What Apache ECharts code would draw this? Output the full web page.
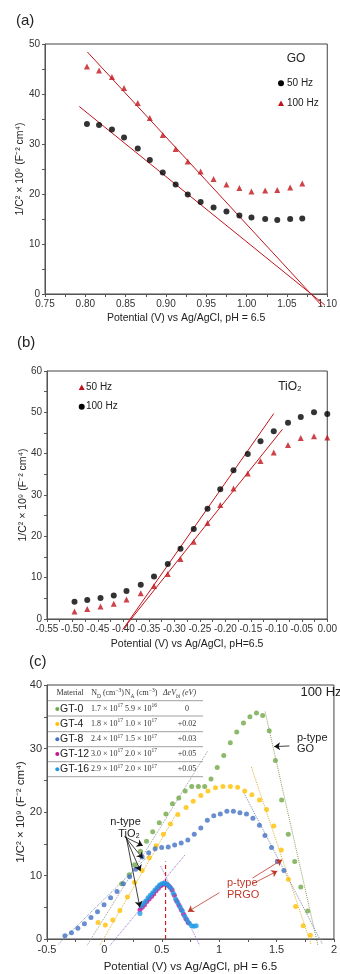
<!DOCTYPE html>
<html><head><meta charset="utf-8">
<script src="https://cdn.jsdelivr.net/npm/echarts@6/dist/echarts.min.js"></script>
<style>html,body{margin:0;padding:0;background:#fff;overflow:hidden}#c{width:340px;height:974px}</style>
</head><body><div id="c"></div>
<script>
// ---------- Panel (a) GO ----------
const aX = [0.802,0.817,0.833,0.848,0.865,0.880,0.896,0.912,0.927,0.943,0.959,0.975,0.991,1.006,1.023,1.038,1.054,1.069];
const a50 = [34.0,33.8,32.9,31.3,29.1,26.8,24.3,21.9,19.9,18.4,17.3,16.5,15.7,15.3,15.0,14.8,15.0,15.1];
const a100 = [45.5,44.7,43.4,41.2,38.2,35.2,31.8,29.0,26.5,24.5,23.0,21.9,21.2,20.5,20.7,20.8,21.3,22.1];
const aFit50X = [0.7925,1.097], aFit50Y = [37.5,-2.2];
const aFit100X = [0.8026,1.093], aFit100Y = [48.4,-2.3];

// ---------- Panel (b) TiO2 ----------
const bX = [-0.496,-0.471,-0.445,-0.419,-0.394,-0.366,-0.340,-0.313,-0.288,-0.262,-0.235,-0.210,-0.184,-0.156,-0.131,-0.105,-0.077,-0.052,-0.026,0.000];
const b100 = [4.2,4.6,5.1,5.7,6.8,8.3,10.3,13.3,17.0,21.8,26.7,31.4,36.0,39.9,43.0,45.4,47.5,48.9,50.0,49.6];
const b50 = [1.8,2.4,3.0,3.7,4.7,6.2,8.0,10.9,14.5,18.7,23.2,27.6,31.6,35.2,38.2,40.3,42.1,43.8,44.2,43.9];
const bFit100X = [-0.401,-0.105], bFit100Y = [-2.5,49.7];
const bFit50X = [-0.401,-0.088], bFit50Y = [-2.5,45.9];

// ---------- Panel (c) GT composites, 100 Hz ----------
const gt0X = [0.150,0.216,0.263,0.314,0.367,0.421,0.478,0.536,0.593,0.648,0.704,0.761,0.819,0.874,0.929,0.983,1.040,1.097,1.153,1.212,1.268,1.325,1.379,1.436,1.490,1.544,1.602,1.658,1.711,1.771];
const gt0Y = [8.7,10.1,11.7,13.8,15.4,16.9,18.3,19.7,21.3,22.2,23.3,24.0,24.0,24.0,25.2,27.0,28.9,30.9,32.6,34.0,35.0,35.6,35.2,32.8,28.1,21.9,16.5,12.2,8.2,4.4];
const gt4X = [-0.055,0.008,0.073,0.135,0.201,0.263,0.329,0.391,0.451,0.514,0.576,0.640,0.712,0.774,0.840,0.902,0.968,1.033,1.098,1.161,1.223,1.285,1.351,1.413,1.476,1.541,1.602,1.666,1.732,1.794];
const gt4Y = [2.6,2.2,3.0,4.5,6.6,8.9,10.8,12.8,14.7,16.5,18.1,19.6,20.7,21.7,22.6,23.3,23.8,24.0,24.0,23.9,23.3,22.7,21.9,20.4,17.8,14.0,9.4,5.1,2.1,0.6];
const gt8X = [-0.344,-0.287,-0.231,-0.174,-0.117,-0.060,-0.003,0.054,0.110,0.165,0.220,0.272,0.329,0.386,0.442,0.499,0.556,0.612,0.669,0.727,0.783,0.840,0.897,0.953,1.010,1.067,1.124,1.181,1.238,1.294,1.351,1.399,1.456,1.507,1.564];
const gt8Y = [0.5,1.0,1.7,2.4,3.4,4.3,5.4,6.5,7.5,8.7,9.8,11.0,12.9,13.6,14.2,14.4,14.5,14.8,15.1,15.6,16.5,17.5,18.7,19.4,19.7,20.1,20.1,19.9,19.7,19.0,17.9,16.3,14.4,12.2,10.8];
const gt12X = [0.31,0.33,0.35,0.37,0.39,0.41,0.43,0.45,0.47,0.49,0.51,0.53,0.55,0.57,0.59,0.61,0.63,0.65,0.67,0.69,0.71,0.73];
const gt12Y = [4.6,5.0,5.4,5.9,6.3,6.7,7.1,7.6,8.0,8.4,8.6,8.7,8.5,8.2,7.7,6.9,6.0,5.3,4.6,3.9,3.2,2.6];
const gt16X = [0.31,0.32,0.34,0.36,0.38,0.40,0.42,0.44,0.46,0.48,0.50,0.52,0.54,0.56,0.58,0.60,0.62,0.64,0.66,0.68,0.70,0.72,0.74,0.76,0.78,0.80];
const gt16Y = [4.0,5.2,5.6,6.0,6.5,6.9,7.3,7.7,8.1,8.5,8.7,8.8,8.7,8.4,8.0,7.2,6.3,5.7,5.0,4.4,3.6,3.0,2.5,2.1,2.0,2.1];
// fit lines (c)
const fitGoX = [1.40,1.86], fitGoY = [35.8,-1.0];
const fit4pX = [1.28,1.80], fit4pY = [27.1,-0.8];
const fit8pX = [1.21,1.90], fit8pY = [23.2,-0.8];
const fit0nX = [-0.15,0.90], fit0nY = [-1.0,29.6];
const fit4nX = [-0.04,0.62], fit4nY = [-1.0,19.5];
const fit8nX = [-0.40,0.40], fit8nY = [-0.8,13.4];
const fit12nX = [0.05,0.70], fit12nY = [-1.0,13.2];
const fit12pX = [0.49,0.83], fit12pY = [11.5,-1.0];
const peakX = [0.533,0.533], peakY = [0,12.2];

// table
const tMat = ['GT-0','GT-4','GT-8','GT-12','GT-16'];
const tNDm = ['1.7','1.8','2.4','3.0','2.9'], tNDe = ['17','17','17','17','17'];
const tNAm = ['5.9','1.0','1.5','2.0','2.0'], tNAe = ['16','17','17','17','17'];
const tDV = ['0','+0.02','+0.03','+0.05','+0.05'];

const C_RED = '#c0141c', C_G = '#70a845', C_Y = '#ffc000', C_B = '#4472c4', C_M = '#c01890', C_C = '#1f9be6';
const zip = (x, y) => x.map((v, i) => [v, y[i]]);

const FONT = 'Liberation Sans, Arial, sans-serif';
const axisBase = (extra) => Object.assign({
  type: 'value', splitLine: {show: false},
  axisLine: {show: true, onZero: false, lineStyle: {color: '#555', width: 1}},
  axisTick: {show: true, inside: false, length: 3, lineStyle: {color: '#555'}},
  minorTick: {show: true, splitNumber: 2, length: 3, lineStyle: {color: '#555'}},
  axisLabel: {color: '#333', fontFamily: FONT, fontSize: 10, margin: 5},
  nameTextStyle: {color: '#222', fontFamily: FONT, fontSize: 10.5},
  nameLocation: 'middle', nameMoveOverlap: false
}, extra);

const yName = '1/C² × 10⁹ (F⁻² cm⁴)';

function sc(name, x, y, xi, sym, color, size) {
  return {type: 'scatter', name, xAxisIndex: xi, yAxisIndex: xi, data: zip(x, y), symbol: sym, symbolSize: size,
    itemStyle: {color}, z: 5, silent: true};
}
function ln(x, y, xi, color, type, width, z) {
  return {type: 'line', xAxisIndex: xi, yAxisIndex: xi, data: zip(x, y), symbol: 'none', clip: false,
    lineStyle: {color, width: width || 1, type: type || 'solid'}, z: z || 3, silent: true};
}
function arrowS(segs, color) {
  return {type: 'lines', coordinateSystem: 'cartesian2d', xAxisIndex: 2, yAxisIndex: 2, symbol: ['none', 'arrow'], symbolSize: 6,
    lineStyle: {color, width: 0.8, opacity: 1}, data: segs.map(s => ({coords: s})), z: 8, silent: true};
}

const option = {
  animation: false,
  grid: [
    {left: 45, top: 44, width: 288, height: 250, show: true, borderColor: '#444', borderWidth: 1},
    {left: 47, top: 371, width: 286, height: 248, show: true, borderColor: '#444', borderWidth: 1},
    {left: 47, top: 685, width: 294, height: 257, show: true, borderColor: '#444', borderWidth: 1}
  ],
  xAxis: [
    axisBase({gridIndex: 0, min: 0.75, max: 1.1, interval: 0.05, name: 'Potential (V) vs Ag/AgCl, pH = 6.5', nameGap: 19,
      axisLabel: {color: '#333', fontFamily: FONT, fontSize: 10, margin: 5, formatter: v => v.toFixed(2)}}),
    axisBase({gridIndex: 1, min: -0.55, max: 0, interval: 0.05, name: 'Potential (V) vs Ag/AgCl, pH=6.5', nameGap: 20,
      axisLabel: {color: '#333', fontFamily: FONT, fontSize: 10, margin: 5, formatter: v => v.toFixed(2)}}),
    axisBase({gridIndex: 2, min: -0.5, max: 2, interval: 0.5, name: 'Potential (V) vs Ag/AgCl, pH = 6.5', nameGap: 22,
      nameTextStyle: {color: '#222', fontFamily: FONT, fontSize: 11.5},
      axisLabel: {color: '#333', fontFamily: FONT, fontSize: 11, margin: 5}})
  ],
  yAxis: [
    axisBase({gridIndex: 0, min: 0, max: 50, interval: 10, name: yName, nameGap: 19}),
    axisBase({gridIndex: 1, min: 0, max: 60, interval: 10, name: yName, nameGap: 18}),
    axisBase({gridIndex: 2, min: 0, max: 40, interval: 10, name: yName, nameGap: 20,
      nameTextStyle: {color: '#222', fontFamily: FONT, fontSize: 11.5},
      axisLabel: {color: '#333', fontFamily: FONT, fontSize: 11, margin: 5}})
  ],
  series: [
    ln(aFit50X, aFit50Y, 0, C_RED), ln(aFit100X, aFit100Y, 0, C_RED),
    sc('50 Hz', aX, a50, 0, 'circle', '#000', 6),
    sc('100 Hz', aX, a100, 0, 'triangle', C_RED, 6),
    ln(bFit100X, bFit100Y, 1, C_RED), ln(bFit50X, bFit50Y, 1, C_RED),
    sc('100 Hz', bX, b100, 1, 'circle', '#000', 6),
    sc('50 Hz', bX, b50, 1, 'triangle', C_RED, 6),
    ln(fitGoX, fitGoY, 2, '#8a9a5b', 'dotted'),
    ln(fit4pX, fit4pY, 2, '#e0b030', 'dotted'),
    ln(fit8pX, fit8pY, 2, '#7a8aa8', 'dotted'),
    ln(fit0nX, fit0nY, 2, '#999', 'dotted'),
    ln(fit4nX, fit4nY, 2, '#e0b030', 'dotted'),
    ln(fit8nX, fit8nY, 2, '#7a8aa8', 'dotted'),
    ln(fit12nX, fit12nY, 2, '#9b6fd0', 'dotted'),
    ln(fit12pX, fit12pY, 2, '#9b6fd0', 'dotted'),
    ln(peakX, peakY, 2, '#d0202a', [4, 3], 1.2),
    sc('GT-0', gt0X, gt0Y, 2, 'circle', C_G, 5),
    sc('GT-4', gt4X, gt4Y, 2, 'circle', C_Y, 5),
    sc('GT-8', gt8X, gt8Y, 2, 'circle', C_B, 5),
    sc('GT-12', gt12X, gt12Y, 2, 'circle', C_M, 5),
    sc('GT-16', gt16X, gt16Y, 2, 'circle', C_C, 5),
    arrowS([[[1.612, 30.4], [1.479, 30.3]]], '#111'),
    arrowS([[[0.175, 16.1], [0.335, 14.7]], [[0.18, 16.1], [0.335, 12.7]], [[0.185, 16.1], [0.314, 10.7]], [[0.19, 16.1], [0.309, 5.0]]], '#111'),
    arrowS([[[1.291, 9.6], [1.549, 12.5]], [[1.291, 8.7], [1.507, 10.7]], [[1.002, 7.3], [0.727, 4.3]]], '#c0392b')
  ],
  graphic: []
};

const G = option.graphic;
const T = (x, y, text, o) => G.push(Object.assign({type: 'text', x, y, silent: true, z: 20,
  style: Object.assign({text, fill: '#222', font: '11px ' + FONT, textAlign: 'left', textVerticalAlign: 'middle'}, o || {})}));
// panel titles
T(16, 21, '(a)', {font: '15px ' + FONT});
T(17, 343, '(b)', {font: '15px ' + FONT});
T(29, 662, '(c)', {font: '15px ' + FONT});
// legend (a)
T(296, 59, 'GO', {font: '12px ' + FONT, textAlign: 'center'});
G.push({type: 'circle', shape: {cx: 281, cy: 83.3, r: 3}, style: {fill: '#000'}, silent: true});
T(287, 83.3, '50 Hz', {font: '10px ' + FONT});
G.push({type: 'polygon', shape: {points: [[281, 100.5], [284, 106], [278, 106]]}, style: {fill: C_RED}, silent: true});
T(287, 103.7, '100 Hz', {font: '10px ' + FONT});
// legend (b)
G.push({type: 'polygon', shape: {points: [[81.7, 384.5], [84.7, 390], [78.7, 390]]}, style: {fill: C_RED}, silent: true});
T(86, 387.3, '50 Hz', {font: '10px ' + FONT});
G.push({type: 'circle', shape: {cx: 81.7, cy: 406.7, r: 3}, style: {fill: '#000'}, silent: true});
T(86, 406.7, '100 Hz', {font: '10px ' + FONT});
T(290, 387, 'TiO₂', {font: '12px ' + FONT, textAlign: 'center'});
// panel (c) annotations
T(321, 692.7, '100 Hz', {font: '13px ' + FONT, textAlign: 'center'});
T(297, 738.3, 'p-type', {font: '11px ' + FONT});
T(297, 749, 'GO', {font: '11px ' + FONT});
T(125.5, 822.3, 'n-type', {font: '11px ' + FONT, textAlign: 'center'});
T(129, 833.5, 'TiO₂', {font: '11px ' + FONT, textAlign: 'center'});
T(227, 883.3, 'p-type', {font: '11px ' + FONT, fill: '#c0392b'});
T(227, 894.5, 'PRGO', {font: '11px ' + FONT, fill: '#c0392b'});
// table
const SER = 'Liberation Serif, Times New Roman, serif';
const rowY = [709, 724, 739.3, 754, 769.3];
const lineY = [700.7, 716, 731.7, 746.7, 761.7, 776.7];
lineY.forEach(y => G.push({type: 'line', shape: {x1: 47, y1: y, x2: 203, y2: y}, style: {stroke: '#a0a0a0', lineWidth: 1}, silent: true}));
const richT = {
  a: {fontFamily: SER, fontSize: 8, fill: '#333'},
  i: {fontFamily: SER, fontSize: 8, fontStyle: 'italic', fill: '#333'},
  sb: {fontFamily: SER, fontSize: 5.5, fill: '#333', verticalAlign: 'bottom', lineHeight: 12, padding: [4, 0, 0, 0]},
  sbi: {fontFamily: SER, fontSize: 5.5, fontStyle: 'italic', fill: '#333', verticalAlign: 'bottom', lineHeight: 12, padding: [4, 0, 0, 0]},
  sp: {fontFamily: SER, fontSize: 5.5, fill: '#333', verticalAlign: 'top', lineHeight: 12, padding: [0, 0, 4, 0]}
};
const RT = (x, y, text) => G.push({type: 'text', x, y, silent: true, z: 20,
  style: {text, textAlign: 'center', textVerticalAlign: 'middle', rich: richT}});
RT(70, 693.3, '{a|Material}');
RT(107.5, 693.3, '{a|N}{sb|D}{a| (cm}{sp|−3}{a|)}');
RT(141, 693.3, '{a|N}{sb|A}{a| (cm}{sp|−3}{a|)}');
RT(179.5, 693.3, '{i|ΔeV}{sbi|bi}{i| (eV)}');
const dotC = [C_G, C_Y, C_B, C_M, C_C];
tMat.forEach((m, i) => {
  G.push({type: 'circle', shape: {cx: 57.3, cy: rowY[i], r: 2}, style: {fill: dotC[i]}, silent: true});
  T(60, rowY[i], m, {font: '10.5px ' + FONT});
  RT(107, rowY[i], '{a|' + tNDm[i] + ' × 10}{sp|' + tNDe[i] + '}');
  RT(141, rowY[i], '{a|' + tNAm[i] + ' × 10}{sp|' + tNAe[i] + '}');
  RT(187, rowY[i], '{a|' + tDV[i] + '}');
});

const chart = echarts.init(document.getElementById('c'), null, {renderer: 'canvas'});
chart.setOption(option);
</script></body></html>
